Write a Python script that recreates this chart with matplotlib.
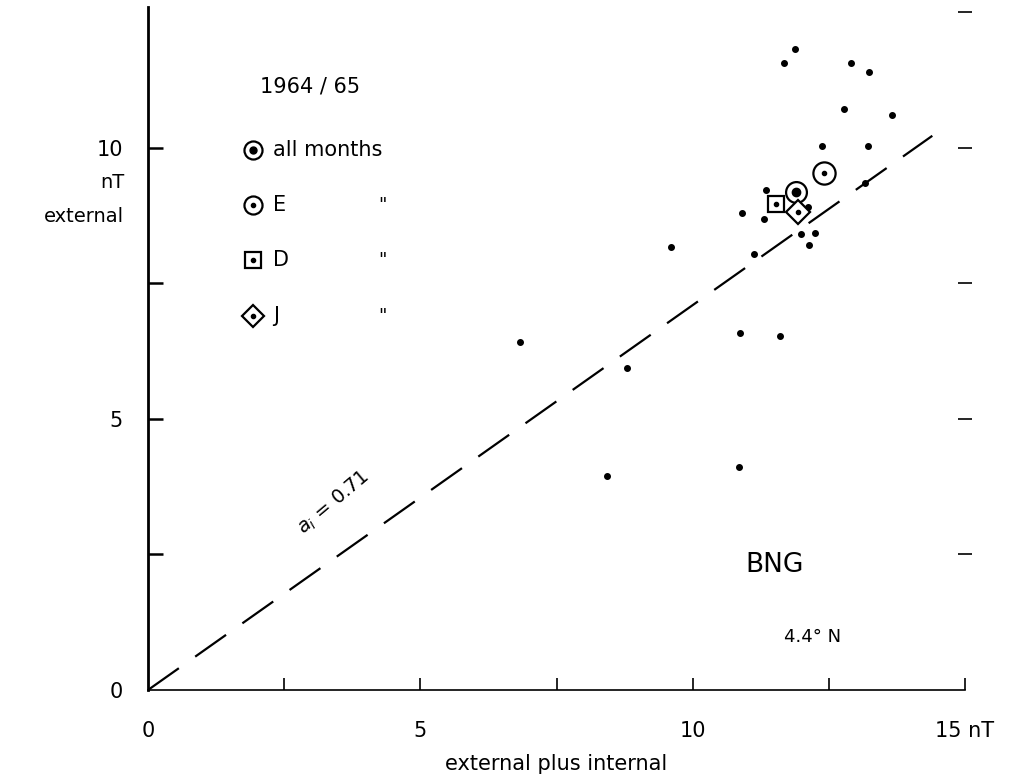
import matplotlib.pyplot as plt
import numpy as np

plt.rcParams['font.family'] = ['DejaVu Sans']

# monthly values: external plus internal (x) against external (y), nT
month_x = [11.88, 11.68, 12.90, 13.24, 12.78, 13.66, 12.37, 13.22, 13.16,
           11.35, 10.90, 11.31, 12.12, 11.99, 12.25, 12.14, 11.13, 9.60,
           6.83, 10.87, 11.60, 8.79, 8.43, 10.85]
month_y = [11.83, 11.57, 11.57, 11.40, 10.72, 10.61, 10.04, 10.04, 9.35,
           9.23, 8.80, 8.69, 8.91, 8.41, 8.43, 8.21, 8.04, 8.17,
           6.42, 6.59, 6.53, 5.94, 3.95, 4.11]

# seasonal and yearly means
all_months = (11.90, 9.19)
season_e = (12.41, 9.54)
season_d = (11.53, 8.97)
season_j = (11.93, 8.82)

ratio = 0.71
line_end = 14.4

fig = plt.figure(figsize=(10.23, 7.75), dpi=100)
ax = fig.add_axes([148 / 1023, 1 - 690 / 775, 817 / 1023, 683 / 775])
ax.set_xlim(0, 15)
ax.set_ylim(0, 12.6)

xl = np.array([0, line_end])
ax.plot(xl, ratio * xl, color='black', lw=1.6, dashes=(17, 9))

ax.scatter(month_x, month_y, s=16, color='black', zorder=3)

def mean_marker(pt, marker, size, inner):
    ax.plot(*pt, marker=marker, ms=size, mfc='white', mec='black', mew=1.6,
            ls='none', zorder=4)
    ax.plot(*pt, marker='o', ms=inner, color='black', ls='none', zorder=5)

mean_marker(season_e, 'o', 16, 3)
mean_marker(all_months, 'o', 15, 6)
mean_marker(season_d, 's', 12, 3)
mean_marker(season_j, 'D', 12, 3)

# legend written by hand in the upper left
ax.text(2.97, 11.13, '1964 / 65', fontsize=15, ha='center', va='center')
rows = [(9.96, 'all months', 'o', 13, 5),
        (8.95, 'E', 'o', 13, 3),
        (7.93, 'D', 's', 11, 3),
        (6.90, 'J', 'D', 11, 3)]
for yy, lab, mk, size, inner in rows:
    mean_marker((1.93, yy), mk, size, inner)
    ax.text(2.3, yy, lab, fontsize=15, ha='left', va='center')
    if lab != 'all months':
        ax.text(4.3, yy, '"', fontsize=13, ha='center', va='center')

ax.text(3.4, 3.45, '$a_i$ = 0.71', fontsize=14, rotation=40,
        ha='center', va='center')
ax.text(11.5, 2.3, 'BNG', fontsize=19, ha='center', va='center')
ax.text(12.2, 0.98, '4.4° N', fontsize=13, ha='center', va='center')

# axes drawn like the hand-lettered frame
for side in ('top', 'right'):
    ax.spines[side].set_visible(False)
ax.spines['left'].set_linewidth(2.0)
ax.spines['bottom'].set_linewidth(1.2)

ax.set_xticks([0, 2.5, 5, 7.5, 10, 12.5, 15])
ax.set_xticklabels(['0', '', '5', '', '10', '', '15 nT'])
ax.tick_params(axis='x', direction='in', length=9, width=1.2,
               labelsize=15, pad=22)

# left axis: ticks up to 10, right-hand ticks up to 12.5
ax.set_yticks([0, 2.5, 5, 7.5, 10])
ax.set_yticklabels(['0', '', '5', '', '10'])
ax.tick_params(axis='y', direction='in', length=11, width=1.8,
               labelsize=15, pad=18)
ax.xaxis.get_major_ticks()[0].tick1line.set_visible(False)
ax.yaxis.get_major_ticks()[0].tick1line.set_visible(False)

ax_r = ax.secondary_yaxis('right')
ax_r.set_yticks([2.5, 5, 7.5, 10, 12.5])
ax_r.tick_params(direction='inout', length=10, width=1.2, labelright=False)
ax_r.spines['right'].set_visible(False)

ax.set_xlabel('external plus internal', fontsize=15, labelpad=10)

fig.text(124 / 1023, 1 - 183 / 775, 'nT', fontsize=14, ha='right', va='center')
fig.text(124 / 1023, 1 - 217 / 775, 'external', fontsize=14, ha='right',
         va='center')

fig.savefig('out.png', dpi=100, facecolor='white')
